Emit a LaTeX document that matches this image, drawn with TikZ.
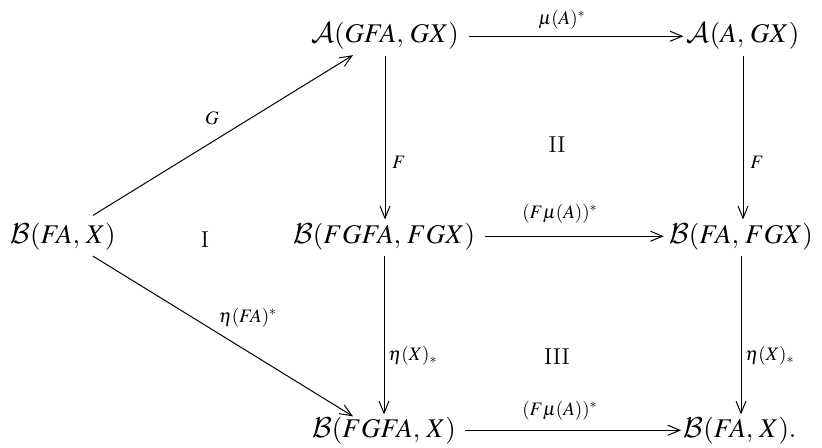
\documentclass[tikz,border=0pt]{standalone}
\usepackage{mathptmx}
\DeclareMathAlphabet{\mathcal}{OMS}{cmsy}{m}{n}
\usetikzlibrary{arrows.meta}
\begin{document}
\begin{tikzpicture}[x=0.5pt,y=-0.5pt,
  obj/.style={inner sep=0pt, anchor=base, font=\fontsize{13.5}{16}\selectfont},
  lbl/.style={inner sep=0pt, font=\fontsize{9.5}{11}\selectfont},
  roman/.style={inner sep=0pt, font=\fontsize{11.5}{13}\selectfont},
  arr/.style={-{Straight Barb[length=6pt,width=5pt]}, line width=0.5pt}]
\useasboundingbox (0,0) rectangle (822,448);
% objects
\node[obj] (bfax)   at (63,243)  {$\mathcal{B}(FA,\,X)$};
\node[obj] (agfa)   at (385,43)  {$\mathcal{A}(GFA,\,GX)$};
\node[obj] (aagx)   at (743,43)  {$\mathcal{A}(A,\,GX)$};
\node[obj] (bfgfa)  at (384,243) {$\mathcal{B}(FGFA,\,FGX)$};
\node[obj] (bfafgx) at (741,243) {$\mathcal{B}(FA,\,FGX)$};
\node[obj] (bfgfax) at (384,437) {$\mathcal{B}(FGFA,\,X)$};
\node[obj] (bfax2)  at (740,437) {$\mathcal{B}(FA,\,X).$};
% arrows
\draw[arr] ([xshift=15pt,yshift=3.5pt]bfax.north) -- ([xshift=-16pt,yshift=-2.5pt]agfa.south);
\draw[arr] ([xshift=15pt,yshift=-3pt]bfax.south) -- ([xshift=-15.5pt]bfgfax.north);
\draw[arr,shorten <=5pt,shorten >=1.5pt] (agfa.east) -- (aagx.west);
\draw[arr,shorten <=5pt,shorten >=2.5pt] (bfgfa.east) -- (bfafgx.west);
\draw[arr,shorten <=4.5pt,shorten >=1pt] (bfgfax.east) -- (bfax2.west);
\draw[arr,shorten <=3pt,shorten >=1.5pt] (agfa.south) -- (agfa.south |- bfgfa.north);
\draw[arr,shorten <=3pt,shorten >=1.5pt] (aagx.south) -- (aagx.south |- bfafgx.north);
\draw[arr,shorten <=3pt,shorten >=1pt] (bfgfa.south) -- (bfgfa.south |- bfgfax.north);
\draw[arr,shorten <=3pt,shorten >=1pt] (bfafgx.south) -- (bfafgx.south |- bfax2.north);
% labels
\node[lbl] (lG)   at (212,118) {$G$};
\node[lbl] (lmu)  at (562,20)  {$\mu(A)^*$};
\node[lbl] (lF1)  at (399,162) {$F$};
\node[lbl] (lF2)  at (757,162) {$F$};
\node[lbl] (lFm1) at (560,214) {$(F\mu(A))^*$};
\node[lbl] (lFm2) at (560,411) {$(F\mu(A))^*$};
\node[lbl] (leta) at (248,318) {$\eta(FA)^*$};
\node[lbl] (lex1) at (413,356) {$\eta(X)_*$};
\node[lbl] (lex2) at (770,356) {$\eta(X)_*$};
\node[roman] (rI)   at (205,240) {I};
\node[roman] (rII)  at (557,145) {II};
\node[roman] (rIII) at (557,357) {III};
\end{tikzpicture}
\end{document}
